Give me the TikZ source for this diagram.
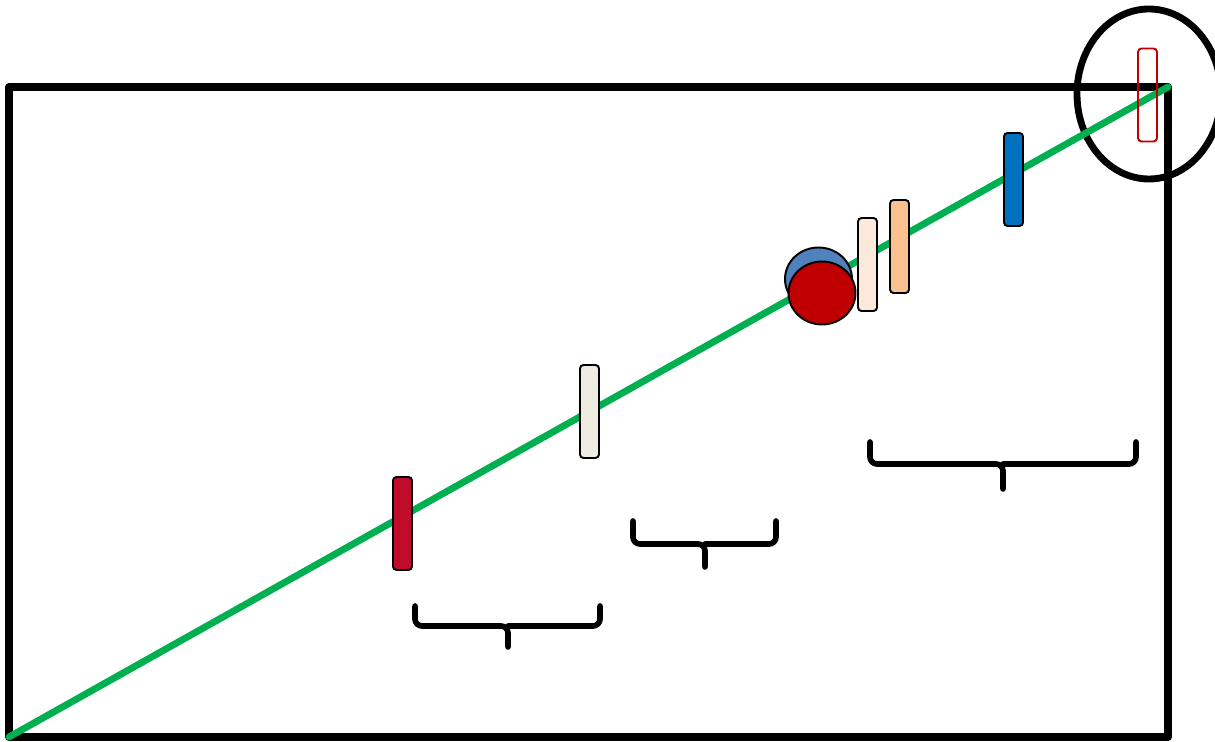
\documentclass[tikz,border=0pt]{standalone}
\usepackage{xcolor}
\usepackage{tikz}
\usetikzlibrary{shapes.geometric}

\definecolor{lineGreen}{HTML}{00B050}
\definecolor{barCrimson}{HTML}{C00C2A}
\definecolor{barBeige}{HTML}{EEEBE0}
\definecolor{barCream}{HTML}{FDE9D9}
\definecolor{barPeach}{HTML}{FAC090}
\definecolor{barBlue}{HTML}{0070C0}
\definecolor{ballBlue}{HTML}{4F81BD}
\definecolor{ballRed}{HTML}{C00000}

\begin{document}
\begin{tikzpicture}[
  x=0.02cm, y=-0.02cm,
  frame/.style={draw=black, line width=4.4pt, line join=round},
  diag/.style={draw=lineGreen, line width=3.9pt, line cap=round},
  bar/.style={draw=black, rounded corners=2pt, line width=1.1pt, minimum width=0.38cm, minimum height=1.86cm, inner sep=0pt},
  ball/.style={draw=black, ellipse, line width=1.1pt, minimum width=1.34cm, minimum height=1.26cm, inner sep=0pt},
  ring/.style={draw=black, line width=3.9pt},
  brk/.style={draw=black, line width=3.2pt, rounded corners=4pt, line cap=round}
]
  \useasboundingbox (0,0) rectangle (1215,742);

  % 1. Frame and circled corner
  \coordinate (bl) at (9,737);
  \coordinate (tr) at (1168,87);
  \draw[frame] (bl) rectangle (tr);
  \draw[ring] (1149,94) ellipse [x radius=72, y radius=85];

  % 2. Diagonal
  \draw[diag] (bl) -- (tr);

  % 3. Bars along the diagonal
  \node[bar, fill=barCrimson] (b1) at (402.5,523.5) {};
  \node[bar, fill=barBeige] (b2) at (589.5,411.5) {};
  \node[ball, fill=ballBlue] (c1) at (818.5,279) {};
  \node[ball, fill=ballRed] (c2) at (822,293) {};
  \node[bar, fill=barCream] (b3) at (867.5,264.5) {};
  \node[bar, fill=barPeach] (b4) at (899.5,246.5) {};
  \node[bar, fill=barBlue] (b5) at (1013.5,179.5) {};
  \node[bar, draw=ballRed, fill=none] (b6) at (1147.5,95) {};

  % 4. Brackets
  \draw[brk] (415,606) -- (415,626) -- (508,626) -- (508,647);
  \draw[brk] (508,626) -- (600,626) -- (600,606);
  \draw[brk] (633,521) -- (633,544) -- (705,544) -- (705,567);
  \draw[brk] (705,544) -- (776,544) -- (776,521);
  \draw[brk] (870,442) -- (870,464) -- (1003,464) -- (1003,489);
  \draw[brk] (1003,464) -- (1136,464) -- (1136,442);

\end{tikzpicture}
\end{document}
